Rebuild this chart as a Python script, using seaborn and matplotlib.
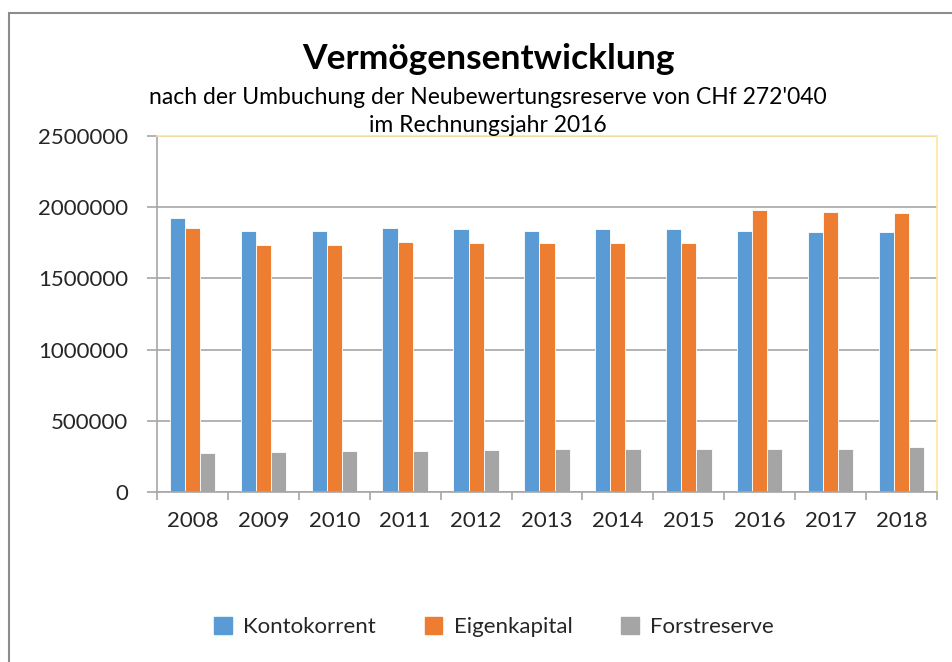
import numpy as np
import pandas as pd
import matplotlib.pyplot as plt
import seaborn as sb
from matplotlib.patches import Rectangle

years = ["2008", "2009", "2010", "2011", "2012", "2013", "2014", "2015", "2016", "2017", "2018"]
kontokorrent = [1922000, 1835000, 1835000, 1851000, 1844000, 1835000, 1844000, 1844000, 1835000, 1826000, 1826000]
eigenkapital = [1851000, 1736000, 1735000, 1753000, 1746000, 1746000, 1746000, 1746000, 1978000, 1968000, 1959000]
forstreserve = [272040, 281000, 290000, 290000, 295000, 304000, 304000, 304000, 304000, 304000, 314000]

series = ["Kontokorrent", "Eigenkapital", "Forstreserve"]
colors = ["#5B9BD5", "#ED7D31", "#A5A5A5"]

df = pd.DataFrame({"year": years, "Kontokorrent": kontokorrent,
                   "Eigenkapital": eigenkapital, "Forstreserve": forstreserve})
df_long = df.melt(id_vars="year", value_vars=series, var_name="serie", value_name="wert")

sb.set_theme(style="white")
plt.rcParams["font.family"] = ["Lato", "DejaVu Sans"]

fig = plt.figure(figsize=(9.52, 6.62), dpi=100)
W, H = 952, 662
ax = fig.add_axes([157 / W, 1 - 492 / H, (937 - 157) / W, (492 - 136) / H])

sb.barplot(data=df_long, x="year", y="wert", hue="serie", palette=colors, saturation=1,
           width=0.64, edgecolor="white", linewidth=0.6, ax=ax, legend=False)

ax.set_ylim(0, 2500000)
ax.set_xlim(-0.5, len(years) - 0.5)
ax.set_yticks(np.arange(0, 2500001, 500000))
ax.set_yticklabels([f"{v:d}" for v in np.arange(0, 2500001, 500000)])
ax.yaxis.grid(True, color="#A6A6A6", linewidth=1.2)
ax.set_axisbelow(True)
ax.set_xlabel("")
ax.set_ylabel("")

# category separators as tick marks like the original
ax.set_xticks(np.arange(-0.5, len(years), 1.0), minor=True)
ax.tick_params(axis="x", which="minor", length=6, color="#A6A6A6", width=1.2, direction="out", bottom=True)
ax.tick_params(axis="x", which="major", length=0, labelsize=16, pad=14, labelcolor="#262626")
ax.tick_params(axis="y", length=7, color="#A6A6A6", width=1.2, direction="out", left=True,
               labelsize=16, pad=14, labelcolor="#262626")

for side in ["top", "right"]:
    ax.spines[side].set_color("#FFE699")
    ax.spines[side].set_linewidth(1.2)
for side in ["left", "bottom"]:
    ax.spines[side].set_color("#A6A6A6")
    ax.spines[side].set_linewidth(1.2)

# outer chart frame
fig.patches.append(Rectangle((9 / W, -0.05), 1.0, 1 - 13 / H + 0.05, transform=fig.transFigure,
                             fill=False, edgecolor="#8C8C8C", linewidth=1.5))

fig.text(488 / W, 1 - 59 / H, "Vermögensentwicklung", ha="center", va="center",
         fontsize=25.5, fontweight="bold", color="black")
fig.text(488 / W, 1 - 97 / H, "nach der Umbuchung der Neubewertungsreserve von CHf 272'040",
         ha="center", va="center", fontsize=16.5, color="black")
fig.text(488 / W, 1 - 125 / H, "im Rechnungsjahr 2016", ha="center", va="center",
         fontsize=16.5, color="black")

handles = [Rectangle((0, 0), 1, 1, color=c) for c in colors]
fig.legend(handles, series, loc="center", bbox_to_anchor=(494 / W, 1 - 627 / H), ncol=3,
           frameon=False, fontsize=16, handlelength=0.8, handleheight=0.8,
           columnspacing=2.2, handletextpad=0.5, labelcolor="#262626")

fig.savefig("out.png", dpi=100)
